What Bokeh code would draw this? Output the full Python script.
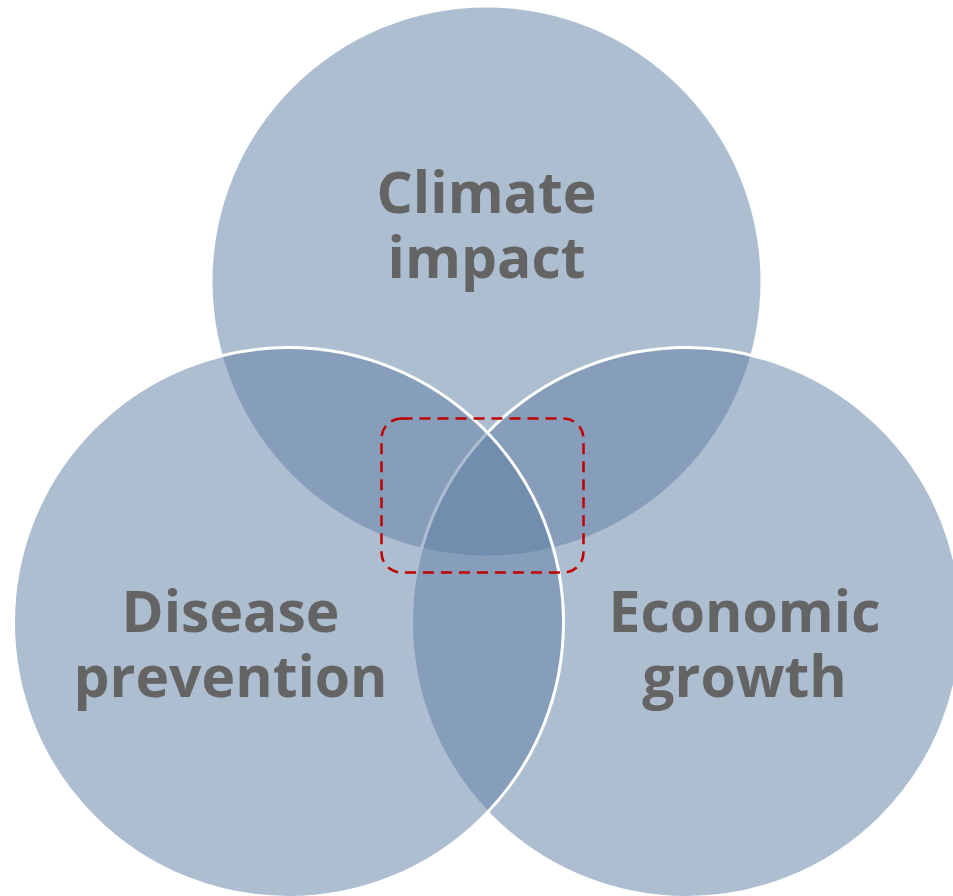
from bokeh.plotting import figure
from bokeh.models import Range1d, ColumnDataSource
from bokeh.core.properties import value
from bokeh.embed import file_html
from bokeh.resources import INLINE

# Three overlapping themes (drawn back to front: top, right, left)
circle_names = ["Climate impact", "Economic growth", "Disease prevention"]
circle_x = [486, 686, 288]
circle_y = [281, 622, 622]
circle_r = [274, 275, 275]
circle_outline = [None, "white", "white"]

# Labels: two lines per circle, positioned on their baselines
label_text = ["Climate", "impact", "Disease", "prevention", "Economic", "growth"]
label_x = [486, 486, 230, 230, 744, 744]
label_y = [190, 255, 609, 674, 609, 674]

# Highlight box around the shared centre
box_left, box_right = [381], [583]
box_top, box_bottom = [418], [572]

W, H = 953, 896
p = figure(width=W, height=H, output_backend="svg", toolbar_location=None,
           x_range=Range1d(0, W), y_range=Range1d(H, 0),
           min_border=0, border_fill_color="white", background_fill_color="white")
p.outline_line_color = None
p.axis.visible = False
p.grid.visible = False

for x, y, r, lc in zip(circle_x, circle_y, circle_r, circle_outline):
    p.circle(x=[x], y=[y], radius=[r], fill_color="#5d7da3", fill_alpha=0.5,
             line_color=lc, line_width=3)

src = ColumnDataSource(dict(x=label_x, y=label_y, t=label_text))
p.text(x="x", y="y", text="t", source=src, text_align="center",
       text_baseline="alphabetic", text_font=value("Open Sans"),
       text_font_style="bold", text_font_size=value("57px"), text_color="#646464")

p.quad(left=box_left, right=box_right, top=box_top, bottom=box_bottom,
       fill_color=None, line_color="#c00000", line_width=2.5,
       line_dash="11 7", border_radius=20)

open("out.html", "w").write(file_html(p, INLINE))
